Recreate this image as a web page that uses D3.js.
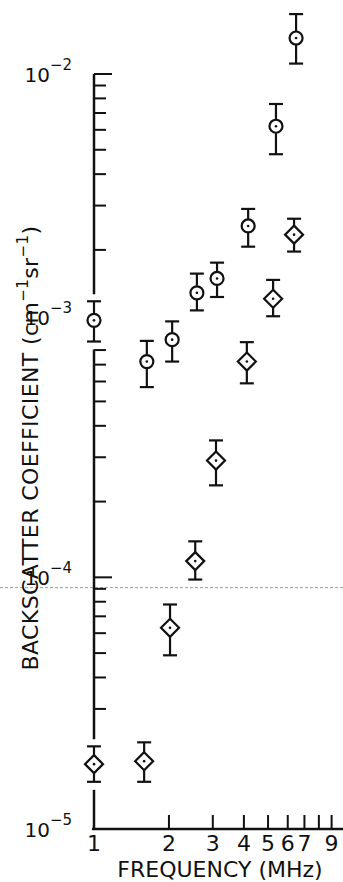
<!DOCTYPE html>
<html>
<head>
<meta charset="utf-8">
<script src="https://cdn.jsdelivr.net/npm/d3@7"></script>
<style>
  body { margin: 0; background: #fff; }
  text { font-family: "DejaVu Sans", sans-serif; fill: #111; }
</style>
</head>
<body>
<div id="chart"></div>
<script>
// Circle series: frequency (MHz), value, upper and lower error bounds
const circleFreq = [1, 1.63, 2.06, 2.59, 3.12, 4.16, 5.38, 6.48];
const circleVal  = [1.05e-3, 7.2e-4, 8.8e-4, 1.35e-3, 1.54e-3, 2.49e-3, 6.2e-3, 1.39e-2];
const circleHi   = [1.25e-3, 8.7e-4, 1.04e-3, 1.61e-3, 1.78e-3, 2.91e-3, 7.6e-3, 1.73e-2];
const circleLo   = [8.65e-4, 5.7e-4, 7.2e-4, 1.15e-3, 1.30e-3, 2.06e-3, 4.8e-3, 1.1e-2];

// Diamond series
const diamondFreq = [1, 1.59, 2.02, 2.55, 3.09, 4.11, 5.24, 6.36];
const diamondVal  = [1.81e-5, 1.86e-5, 6.3e-5, 1.16e-4, 2.91e-4, 7.2e-4, 1.28e-3, 2.30e-3];
const diamondHi   = [2.13e-5, 2.21e-5, 7.8e-5, 1.39e-4, 3.50e-4, 8.6e-4, 1.52e-3, 2.66e-3];
const diamondLo   = [1.54e-5, 1.54e-5, 4.9e-5, 9.8e-5, 2.32e-4, 5.9e-4, 1.09e-3, 1.97e-3];

// Axis ticks and labels
const xTickVals = [2, 3, 4, 5, 6, 7, 8, 9];
const xTickLabels = [1, 2, 3, 4, 5, 6, 7, 9];
const yMajor = [-2, -3, -4, -5];

const width = 343, height = 882;

const svg = d3.select("#chart")
  .append("svg")
  .attr("width", width)
  .attr("height", height);

// Log scales
const x = d3.scaleLog().domain([1, 10]).range([94, 343]);
const y = d3.scaleLog().domain([1e-5, 1e-2]).range([829, 74]);

const circles = circleFreq.map((f, i) => ({f, v: circleVal[i], hi: circleHi[i], lo: circleLo[i]}));
const diamonds = diamondFreq.map((f, i) => ({f, v: diamondVal[i], hi: diamondHi[i], lo: diamondLo[i]}));

// faint fold line across the scan
svg.append("line")
  .attr("x1", 0).attr("x2", width)
  .attr("y1", y(9.1e-5)).attr("y2", y(9.1e-5))
  .attr("stroke", "#999")
  .attr("stroke-width", 1)
  .attr("stroke-dasharray", "3,2");

// Y axis line, broken where the 1 MHz points sit on it
const gaps = [circles[0], diamonds[0]]
  .map(d => [y(d.hi) - 7, y(d.lo) + 8])
  .sort((a, b) => a[0] - b[0]);
let segs = [], start = y(1e-2);
gaps.forEach(g => { segs.push([start, g[0]]); start = g[1]; });
segs.push([start, y(1e-5)]);

const axisG = svg.append("g").attr("stroke", "#111");
axisG.selectAll("line.yseg")
  .data(segs)
  .join("line")
  .attr("x1", x(1)).attr("x2", x(1))
  .attr("y1", d => d[0]).attr("y2", d => d[1])
  .attr("stroke-width", 2.5);

// Y ticks (inward), skipped inside gaps
const inGap = yy => gaps.some(g => yy > g[0] && yy < g[1]);
const yTicks = y.ticks().filter(t => t < 1e-2 * 1.01 && t > 1e-5 * 1.01 && !inGap(y(t)));
axisG.selectAll("line.ytick")
  .data(yTicks)
  .join("line")
  .attr("x1", x(1))
  .attr("x2", d => x(1) + (Math.abs(Math.log10(d) - Math.round(Math.log10(d))) < 1e-6 ? 18 : 12))
  .attr("y1", d => y(d)).attr("y2", d => y(d))
  .attr("stroke-width", 2);

// X axis line and ticks
axisG.append("line")
  .attr("x1", x(1) - 2).attr("x2", width)
  .attr("y1", y(1e-5)).attr("y2", y(1e-5))
  .attr("stroke-width", 2.4);

axisG.selectAll("line.xtick")
  .data(xTickVals)
  .join("line")
  .attr("x1", d => x(d)).attr("x2", d => x(d))
  .attr("y1", y(1e-5)).attr("y2", y(1e-5) - 14)
  .attr("stroke-width", 2);

// X tick labels
svg.append("g")
  .selectAll("text")
  .data(xTickLabels)
  .join("text")
  .attr("x", d => x(d))
  .attr("y", 851)
  .attr("text-anchor", "middle")
  .style("font-size", "22px")
  .text(d => d);

// Y major labels 10^n
const yl = svg.append("g")
  .selectAll("text")
  .data(yMajor)
  .join("text")
  .attr("x", 72)
  .attr("y", d => y(Math.pow(10, d)) + 8 - (d === -3 ? 9 : 0))
  .attr("text-anchor", "end")
  .style("font-size", "20px");
yl.append("tspan").text("10");
yl.append("tspan")
  .attr("dy", -12)
  .style("font-size", "15px")
  .text(d => "−" + (-d));

// Axis titles
svg.append("text")
  .attr("x", 220)
  .attr("y", 877)
  .attr("text-anchor", "middle")
  .style("font-size", "22px")
  .text("FREQUENCY (MHz)");

const yt = svg.append("text")
  .attr("transform", "translate(38,448) rotate(-90)")
  .attr("text-anchor", "middle")
  .style("font-size", "22px")
  .style("letter-spacing", "0.4px");
yt.append("tspan").text("BACKSCATTER COEFFICIENT (cm");
yt.append("tspan").attr("dy", -10).style("font-size", "15px").text("−1");
yt.append("tspan").attr("dy", 10).text("sr");
yt.append("tspan").attr("dy", -10).style("font-size", "15px").text("−1");
yt.append("tspan").attr("dy", 10).text(")");

// Error bars + markers
function drawSeries(data, shape) {
  const half = shape === "circle" ? 7 : 9;
  const g = svg.append("g")
    .attr("stroke", "#111")
    .attr("stroke-width", 2.2)
    .attr("fill", "none");

  const pt = g.selectAll("g")
    .data(data)
    .join("g")
    .attr("transform", d => `translate(${x(d.f)},0)`);

  pt.append("line")
    .attr("y1", d => y(d.hi)).attr("y2", d => y(d.v) - half);
  pt.append("line")
    .attr("y1", d => y(d.lo)).attr("y2", d => y(d.v) + half);
  pt.append("line")
    .attr("x1", -7).attr("x2", 7)
    .attr("y1", d => y(d.hi)).attr("y2", d => y(d.hi));
  pt.append("line")
    .attr("x1", -7).attr("x2", 7)
    .attr("y1", d => y(d.lo)).attr("y2", d => y(d.lo));

  if (shape === "circle") {
    pt.append("circle")
      .attr("cy", d => y(d.v))
      .attr("r", 6.5)
      .attr("fill", "#fff");
  } else {
    pt.append("path")
      .attr("d", d => {
        const cy = y(d.v);
        return `M0,${cy - 9}L9,${cy}L0,${cy + 9}L-9,${cy}Z`;
      })
      .attr("fill", "#fff");
  }
  pt.append("circle")
    .attr("cy", d => y(d.v))
    .attr("r", 1.3)
    .attr("fill", "#111")
    .attr("stroke", "none");
}

drawSeries(circles, "circle");
drawSeries(diamonds, "diamond");
</script>
</body>
</html>
